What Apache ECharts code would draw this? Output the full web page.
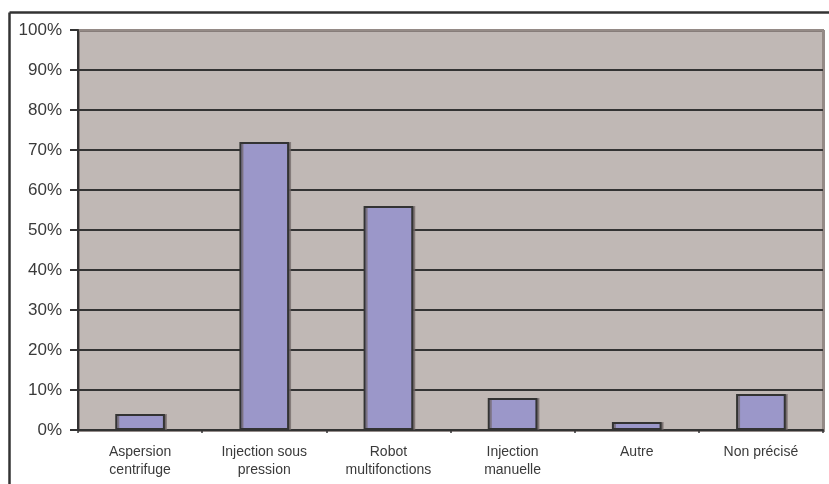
<!DOCTYPE html>
<html>
<head>
<meta charset="utf-8">
<script src="https://cdn.jsdelivr.net/npm/echarts@6/dist/echarts.min.js"></script>
<style>
  html, body { margin: 0; padding: 0; background: #ffffff; }
  #chart { width: 829px; height: 484px; }
</style>
</head>
<body>
<div id="chart"></div>
<script>
// Categories (application method) and share of respondents in percent
const categories = [
  'Aspersion\ncentrifuge',
  'Injection sous\npression',
  'Robot\nmultifonctions',
  'Injection\nmanuelle',
  'Autre',
  'Non précisé'
];
const shares = [4, 72, 56, 8, 2, 9];
const yTicks = [0, 10, 20, 30, 40, 50, 60, 70, 80, 90, 100];

const chart = echarts.init(document.getElementById('chart'), null, { renderer: 'canvas' });

chart.setOption({
  backgroundColor: '#ffffff',
  animation: false,
  graphic: [
    // outer frame: left and top edges
    { type: 'line', shape: { x1: 9.5, y1: 12.5, x2: 9.5, y2: 484 }, style: { stroke: '#333333', lineWidth: 2.5 }, z: 10 },
    { type: 'line', shape: { x1: 9.5, y1: 12.5, x2: 829, y2: 12.5 }, style: { stroke: '#333333', lineWidth: 2.5 }, z: 10 }
  ],
  grid: {
    left: 78, right: 6, top: 30, bottom: 54,
    show: true,
    backgroundColor: '#c0b8b5',
    borderColor: '#948a86',
    borderWidth: 2,
    shadowColor: 'rgba(120,110,108,0.8)',
    shadowOffsetX: 1,
    shadowOffsetY: 1
  },
  xAxis: {
    type: 'category',
    data: categories,
    axisLine: { show: true, lineStyle: { color: '#333333', width: 2 } },
    axisTick: { show: true, length: 3, alignWithLabel: false, lineStyle: { color: '#333333', width: 1.5 } },
    axisLabel: {
      color: '#3a3a3a',
      fontFamily: 'Liberation Sans, Arial, sans-serif',
      fontSize: 14,
      lineHeight: 18,
      margin: 13,
      interval: 0
    },
    splitLine: { show: false }
  },
  yAxis: {
    type: 'value',
    min: yTicks[0],
    max: yTicks[yTicks.length - 1],
    interval: 10,
    axisLine: { show: true, lineStyle: { color: '#333333', width: 2 } },
    axisTick: { show: true, length: 8, lineStyle: { color: '#333333', width: 2 } },
    axisLabel: {
      color: '#3a3a3a',
      fontFamily: 'Liberation Sans, Arial, sans-serif',
      fontSize: 17,
      margin: 16,
      formatter: v => v + '%'
    },
    splitLine: {
      show: true,
      showMaxLine: false,
      lineStyle: { color: '#333333', width: 2 }
    }
  },
  series: [{
    type: 'bar',
    data: shares,
    barWidth: '40%',
    itemStyle: {
      color: '#9b97c9',
      borderColor: '#333333',
      borderWidth: 2,
      shadowColor: 'rgba(110,100,100,0.7)',
      shadowOffsetX: 2,
      shadowOffsetY: 0
    }
  }]
});
</script>
</body>
</html>
